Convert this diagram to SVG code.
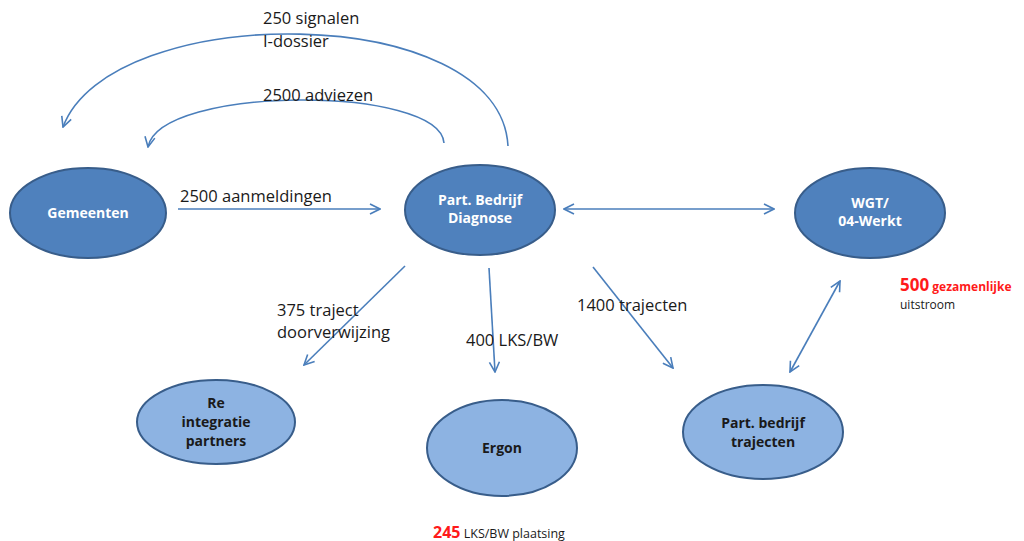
<svg xmlns="http://www.w3.org/2000/svg" width="1024" height="541" viewBox="0 0 1024 541">
<style>
.dark{fill:#4F81BD;stroke:#385D8A;stroke-width:2}
.light{fill:#8DB3E2;stroke:#385D8A;stroke-width:2}
.nt{font-family:"Open Sans","Liberation Sans",sans-serif;font-weight:bold;font-size:14px;text-anchor:middle}
.w{fill:#ffffff}
.k{fill:#1a1a1a}
.lbl{font-family:"Open Sans","Liberation Sans",sans-serif;font-size:16.5px;fill:#1a1a1a}
.c{fill:none;stroke:#4A7EBB;stroke-width:1.6}
.red{fill:#ff1a1a;font-weight:bold}
.sm{font-family:"Open Sans","Liberation Sans",sans-serif;font-size:12px;fill:#1a1a1a}
</style>
<defs>
<marker id="ah" viewBox="0 0 12 12" refX="11" refY="6" markerWidth="12" markerHeight="12" markerUnits="userSpaceOnUse" orient="auto-start-reverse">
<path d="M1,1 L11,6 L1,11" fill="none" stroke="#4A7EBB" stroke-width="1.6"/>
</marker>
</defs>
<rect width="1024" height="541" fill="#ffffff"/>
<g id="connectors">
<path class="c" d="M508,146 C500,0 110,0 63,127" marker-end="url(#ah)"/>
<path class="c" d="M444,143 C440,85 160,85 148,147" marker-end="url(#ah)"/>
<line class="c" x1="178" y1="209" x2="380" y2="209" marker-end="url(#ah)"/>
<line class="c" x1="564" y1="209" x2="774" y2="209" marker-start="url(#ah)" marker-end="url(#ah)"/>
<line class="c" x1="405" y1="266" x2="304" y2="365" marker-end="url(#ah)"/>
<line class="c" x1="489" y1="268" x2="495" y2="372" marker-end="url(#ah)"/>
<line class="c" x1="593" y1="267" x2="673" y2="368" marker-end="url(#ah)"/>
<line class="c" x1="790" y1="372" x2="840" y2="281" marker-start="url(#ah)" marker-end="url(#ah)"/>
</g>
<g id="labels">
<text class="lbl" x="263" y="24">250 signalen</text>
<text class="lbl" x="263" y="47">I-dossier</text>
<text class="lbl" x="263" y="101">2500  adviezen</text>
<text class="lbl" x="180" y="202">2500 aanmeldingen</text>
<text class="lbl" x="277" y="316">375 traject</text>
<text class="lbl" x="277" y="338">doorverwijzing</text>
<text class="lbl" x="466" y="346">400 LKS/BW</text>
<text class="lbl" x="577" y="311">1400 trajecten</text>
<text class="sm" x="900" y="291"><tspan class="red" font-size="17">500</tspan><tspan class="red" font-size="12"> gezamenlijke</tspan></text>
<text class="sm" x="900" y="309">uitstroom</text>
<text class="sm" x="433" y="538"><tspan class="red" font-size="16">245</tspan><tspan font-size="12.5"> LKS/BW plaatsing</tspan></text>
</g>
<g id="gemeenten">
<ellipse class="dark" cx="88" cy="213" rx="78" ry="45"/>
<text class="nt w" x="88" y="218">Gemeenten</text>
</g>
<g id="diagnose">
<ellipse class="dark" cx="480" cy="210" rx="75" ry="45"/>
<text class="nt w" x="480" y="205">Part. Bedrijf</text>
<text class="nt w" x="480" y="223">Diagnose</text>
</g>
<g id="wgt">
<ellipse class="dark" cx="870" cy="213" rx="75" ry="45"/>
<text class="nt w" x="870" y="208">WGT/</text>
<text class="nt w" x="870" y="226">04-Werkt</text>
</g>
<g id="reintegratie">
<ellipse class="light" cx="216" cy="422" rx="79" ry="42"/>
<text class="nt k" x="216" y="408">Re</text>
<text class="nt k" x="216" y="427">integratie</text>
<text class="nt k" x="216" y="446">partners</text>
</g>
<g id="ergon">
<ellipse class="light" cx="502" cy="448" rx="75" ry="48"/>
<text class="nt k" x="502" y="453">Ergon</text>
</g>
<g id="trajecten">
<ellipse class="light" cx="763" cy="432" rx="80" ry="47"/>
<text class="nt k" x="763" y="428">Part. bedrijf</text>
<text class="nt k" x="763" y="447">trajecten</text>
</g>
</svg>
